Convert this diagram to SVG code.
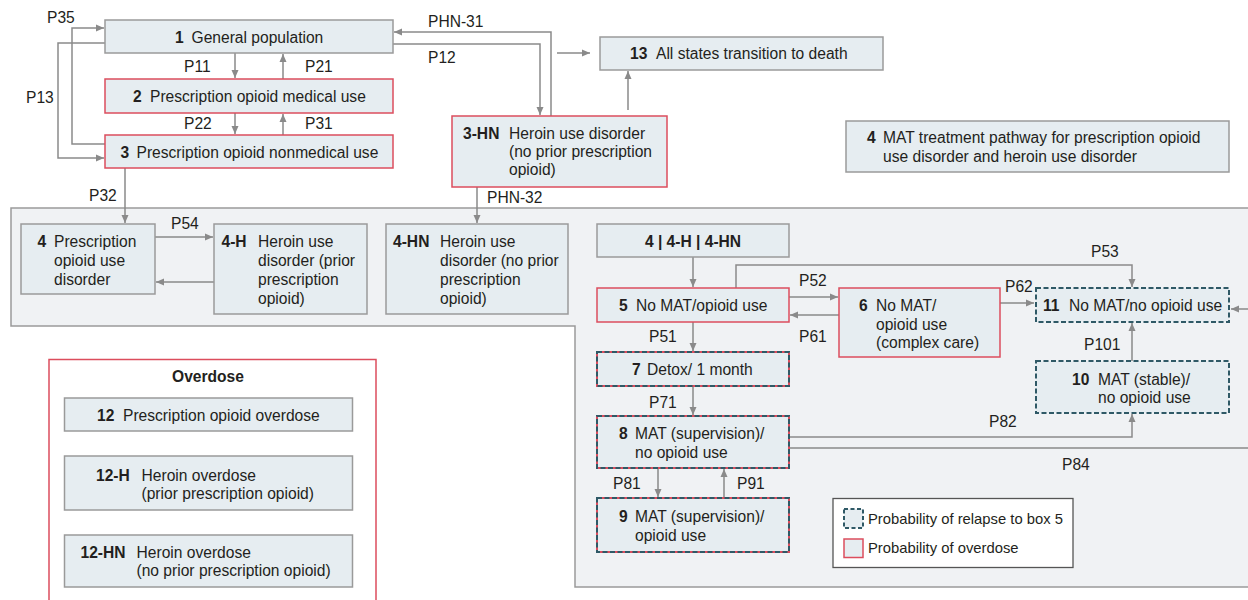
<svg xmlns="http://www.w3.org/2000/svg" width="1248" height="600" viewBox="0 0 1248 600">
<defs>
<marker id="ah" markerWidth="9" markerHeight="8" refX="8" refY="4" orient="auto" markerUnits="userSpaceOnUse">
<path d="M0,0.5 L8,4 L0,7.5 z" fill="#8a8a8a"/>
</marker>
<style>
text{font-family:"Liberation Sans",Arial,sans-serif;font-size:15.6px;fill:#231f20}
.b{font-weight:bold}
.lg{font-size:14.8px}
.box{fill:#e6edf1;stroke:#9a9a9a;stroke-width:1.5}
.red{fill:#e6edf1;stroke:#dc4d5d;stroke-width:1.5}
.dash{fill:none;stroke:#2f5966;stroke-width:2;stroke-dasharray:5 2.5}
.dashbg{fill:#e6edf1;stroke:none}
.redbg{fill:#e6edf1;stroke:#dc4d5d;stroke-width:2}
#connectors path{fill:none;stroke:#8a8a8a;stroke-width:1.5;marker-end:url(#ah)}
#connectors path.n{marker-end:none}
</style>
</defs>
<rect x="0" y="0" width="1248" height="600" fill="#ffffff"/>
<path id="panel" d="M11,208 H1252 V587 H575 V326 H11 Z" fill="#f0f2f4" stroke="#9a9a9a" stroke-width="1.5"/>

<g id="connectors">
<path d="M105,144 H72 V28 H104"/>
<path d="M105,43 H58 V158 H104"/>
<path d="M235,53 V78"/>
<path d="M283,79 V54"/>
<path d="M235,113 V134"/>
<path d="M283,135 V114"/>
<path d="M393,44 H540 V115"/>
<path d="M551,116 V32 H394"/>
<path d="M557,53 H590"/>
<path d="M628,110 V71"/>
<path d="M125,168 V223"/>
<path d="M477,187 V223"/>
<path d="M155,237 H213"/>
<path d="M214,282 H156"/>
<path d="M693,257 V287"/>
<path d="M736,288 V265 H1132 V287"/>
<path d="M789,297 H838"/>
<path d="M839,315 H790"/>
<path d="M1000,303 H1034"/>
<path d="M1250,309 H1231"/>
<path d="M693,322 V351"/>
<path d="M693,386 V415"/>
<path d="M1132,361 V323"/>
<path d="M789,437 H1132 V414"/>
<path class="n" d="M789,448 H1252"/>
<path d="M658,468 V497"/>
<path d="M724,498 V469"/>
</g>

<g id="labels">
<text x="47" y="22.5">P35</text>
<text x="26" y="103">P13</text>
<text x="184" y="72">P11</text>
<text x="305" y="72">P21</text>
<text x="184" y="129">P22</text>
<text x="305" y="129">P31</text>
<text x="428" y="27">PHN-31</text>
<text x="428" y="63">P12</text>
<text x="89" y="201">P32</text>
<text x="487" y="203">PHN-32</text>
<text x="171" y="229">P54</text>
<text x="1091" y="257">P53</text>
<text x="799" y="286">P52</text>
<text x="799" y="342">P61</text>
<text x="1005" y="292">P62</text>
<text x="649" y="342">P51</text>
<text x="649" y="408">P71</text>
<text x="1084" y="350">P101</text>
<text x="989" y="427">P82</text>
<text x="1062" y="470">P84</text>
<text x="613" y="489">P81</text>
<text x="737" y="489">P91</text>
</g>

<g id="n1"><rect class="box" x="105" y="20" width="288" height="33"/>
<text x="175" y="42.5"><tspan class="b">1</tspan><tspan x="191.5">General population</tspan></text></g>
<g id="n2"><rect class="red" x="105" y="79" width="288" height="34"/>
<text x="133" y="102"><tspan class="b">2</tspan><tspan x="150">Prescription opioid medical use</tspan></text></g>
<g id="n3"><rect class="red" x="105" y="135" width="288" height="33"/>
<text x="120.5" y="158"><tspan class="b">3</tspan><tspan x="136.5">Prescription opioid nonmedical use</tspan></text></g>
<g id="n3HN"><rect class="red" x="452" y="116" width="215" height="71"/>
<text x="463" y="138.5"><tspan class="b">3-HN</tspan><tspan x="509">Heroin use disorder</tspan><tspan x="509" y="157">(no prior prescription</tspan><tspan x="509" y="175">opioid)</tspan></text></g>
<g id="n13"><rect class="box" x="600" y="37" width="283" height="33"/>
<text x="630" y="58.5"><tspan class="b">13</tspan><tspan x="656">All states transition to death</tspan></text></g>
<g id="nMAT"><rect class="box" x="846" y="121" width="383" height="51"/>
<text x="867" y="143"><tspan class="b">4</tspan><tspan x="883">MAT treatment pathway for prescription opioid</tspan><tspan x="883" y="162">use disorder and heroin use disorder</tspan></text></g>

<g id="n4"><rect class="box" x="21" y="224" width="134" height="70"/>
<text x="37.5" y="246.5"><tspan class="b">4</tspan><tspan x="54">Prescription</tspan><tspan x="54" y="266">opioid use</tspan><tspan x="54" y="284.5">disorder</tspan></text></g>
<g id="n4H"><rect class="box" x="214" y="224" width="153" height="90"/>
<text x="221.5" y="246.5"><tspan class="b">4-H</tspan><tspan x="258">Heroin use</tspan><tspan x="258" y="266">disorder (prior</tspan><tspan x="258" y="284.5">prescription</tspan><tspan x="258" y="304">opioid)</tspan></text></g>
<g id="n4HN"><rect class="box" x="386" y="224" width="182" height="90"/>
<text x="393" y="246.5"><tspan class="b">4-HN</tspan><tspan x="440">Heroin use</tspan><tspan x="440" y="266">disorder (no prior</tspan><tspan x="440" y="284.5">prescription</tspan><tspan x="440" y="304">opioid)</tspan></text></g>

<g id="n4all"><rect class="box" x="597" y="224" width="192" height="33"/>
<text class="b" x="693" y="247" text-anchor="middle">4 | 4-H | 4-HN</text></g>
<g id="n5"><rect class="red" x="597" y="288" width="192" height="34"/>
<text x="619" y="310.5"><tspan class="b">5</tspan><tspan x="636">No MAT/opioid use</tspan></text></g>
<g id="n6"><rect class="red" x="839" y="288" width="161" height="69"/>
<text x="859" y="310.5"><tspan class="b">6</tspan><tspan x="876">No MAT/</tspan><tspan x="876" y="329.5">opioid use</tspan><tspan x="876" y="348">(complex care)</tspan></text></g>
<g id="n7"><rect class="redbg" x="597" y="352" width="192" height="34"/><rect class="dash" x="597" y="352" width="192" height="34"/>
<text x="632" y="374.5"><tspan class="b">7</tspan><tspan x="647">Detox/ 1 month</tspan></text></g>
<g id="n8"><rect class="redbg" x="597" y="416" width="192" height="52"/><rect class="dash" x="597" y="416" width="192" height="52"/>
<text x="619" y="439"><tspan class="b">8</tspan><tspan x="635">MAT (supervision)/</tspan><tspan x="635" y="457.5">no opioid use</tspan></text></g>
<g id="n9"><rect class="redbg" x="597" y="498" width="192" height="54"/><rect class="dash" x="597" y="498" width="192" height="54"/>
<text x="619" y="522"><tspan class="b">9</tspan><tspan x="635">MAT (supervision)/</tspan><tspan x="635" y="540.5">opioid use</tspan></text></g>
<g id="n10"><rect class="dashbg" x="1036" y="361" width="193" height="52"/><rect class="dash" x="1036" y="361" width="193" height="52"/>
<text x="1072" y="384.5"><tspan class="b">10</tspan><tspan x="1098">MAT (stable)/</tspan><tspan x="1098" y="402.5">no opioid use</tspan></text></g>
<g id="n11"><rect class="dashbg" x="1036" y="288" width="193" height="34"/><rect class="dash" x="1036" y="288" width="193" height="34"/>
<text x="1043" y="310.5"><tspan class="b">11</tspan><tspan x="1069">No MAT/no opioid use</tspan></text></g>

<g id="legend"><rect x="833" y="498.5" width="240" height="69" fill="#ffffff" stroke="#555555" stroke-width="1.3"/>
<rect class="dashbg" x="844" y="509" width="19" height="19"/><rect x="844" y="509" width="19" height="19" fill="none" stroke="#2f5966" stroke-width="2" stroke-dasharray="4 2.5"/>
<text class="lg" x="868" y="523.5">Probability of relapse to box 5</text>
<rect x="844" y="539" width="19" height="18.5" fill="#e6edf1" stroke="#dc4d5d" stroke-width="1.5"/>
<text class="lg" x="868" y="553">Probability of overdose</text></g>

<g id="overdose"><rect x="49" y="359.5" width="327" height="260" fill="#ffffff" stroke="#dc4d5d" stroke-width="1.5"/>
<text class="b" x="208" y="381.5" text-anchor="middle">Overdose</text></g>
<g id="n12"><rect class="box" x="64.5" y="398" width="288" height="33"/>
<text x="97" y="420.5"><tspan class="b">12</tspan><tspan x="123">Prescription opioid overdose</tspan></text></g>
<g id="n12H"><rect class="box" x="64.5" y="456" width="288" height="54"/>
<text x="96" y="481"><tspan class="b">12-H</tspan><tspan x="141.5">Heroin overdose</tspan><tspan x="141.5" y="499">(prior prescription opioid)</tspan></text></g>
<g id="n12HN"><rect class="box" x="64.5" y="535" width="288" height="52"/>
<text x="80.5" y="557.5"><tspan class="b">12-HN</tspan><tspan x="136.5">Heroin overdose</tspan><tspan x="136.5" y="575.5">(no prior prescription opioid)</tspan></text></g>
</svg>
